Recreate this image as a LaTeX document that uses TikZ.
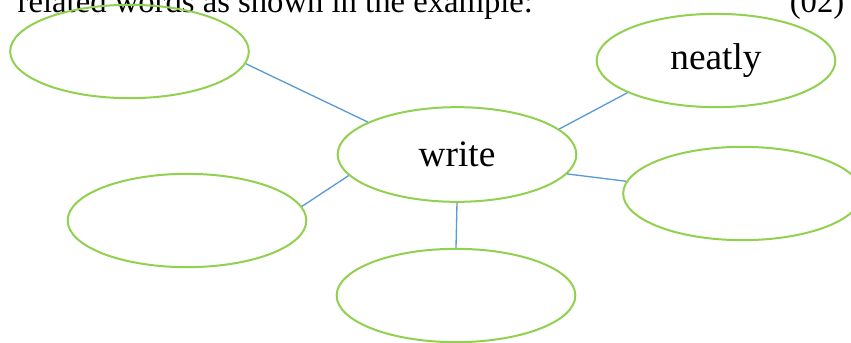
\documentclass[tikz,border=0pt]{standalone}
\usepackage{fontspec}
\setmainfont{Liberation Serif}
\usetikzlibrary{shapes.geometric}
\definecolor{leafgreen}{RGB}{146,208,80}
\definecolor{linkblue}{RGB}{91,155,213}

\begin{document}
\begin{tikzpicture}[x=0.75pt,y=-0.75pt,
  bubble/.style={ellipse,draw=leafgreen,line width=1.5pt,inner sep=0pt,
    minimum width=179pt,minimum height=70pt,font=\fontsize{28}{33}\selectfont},
  link/.style={draw=linkblue,line width=1pt}]
\clip (0,0) rectangle (851,343);
\node[anchor=base west,font=\fontsize{24.5}{29}\selectfont] (task) at (13,12) {related words as shown in the example:};
\node[anchor=base east,font=\fontsize{24.5}{29}\selectfont] (mark) at (849,12) {(02)};
\node[bubble] (tl) at (129.5,51.5) {};
\node[bubble] (nt) at (716,60.5) {neatly};
\node[bubble,minimum height=71pt] (wr) at (457,154.5) {write};
\node[bubble] (rt) at (742.5,193.5) {};
\node[bubble] (bl) at (187,220.5) {};
\node[bubble] (bt) at (456,295.5) {};
\draw[link] (tl.-6)--(wr.160.7) (bl.7.2)--(wr.191.3) (wr.south)--(bt.north)
(wr.14.8)--(nt.200.1) (wr.-10.1)--(rt.174.4);
\end{tikzpicture}
\end{document}
